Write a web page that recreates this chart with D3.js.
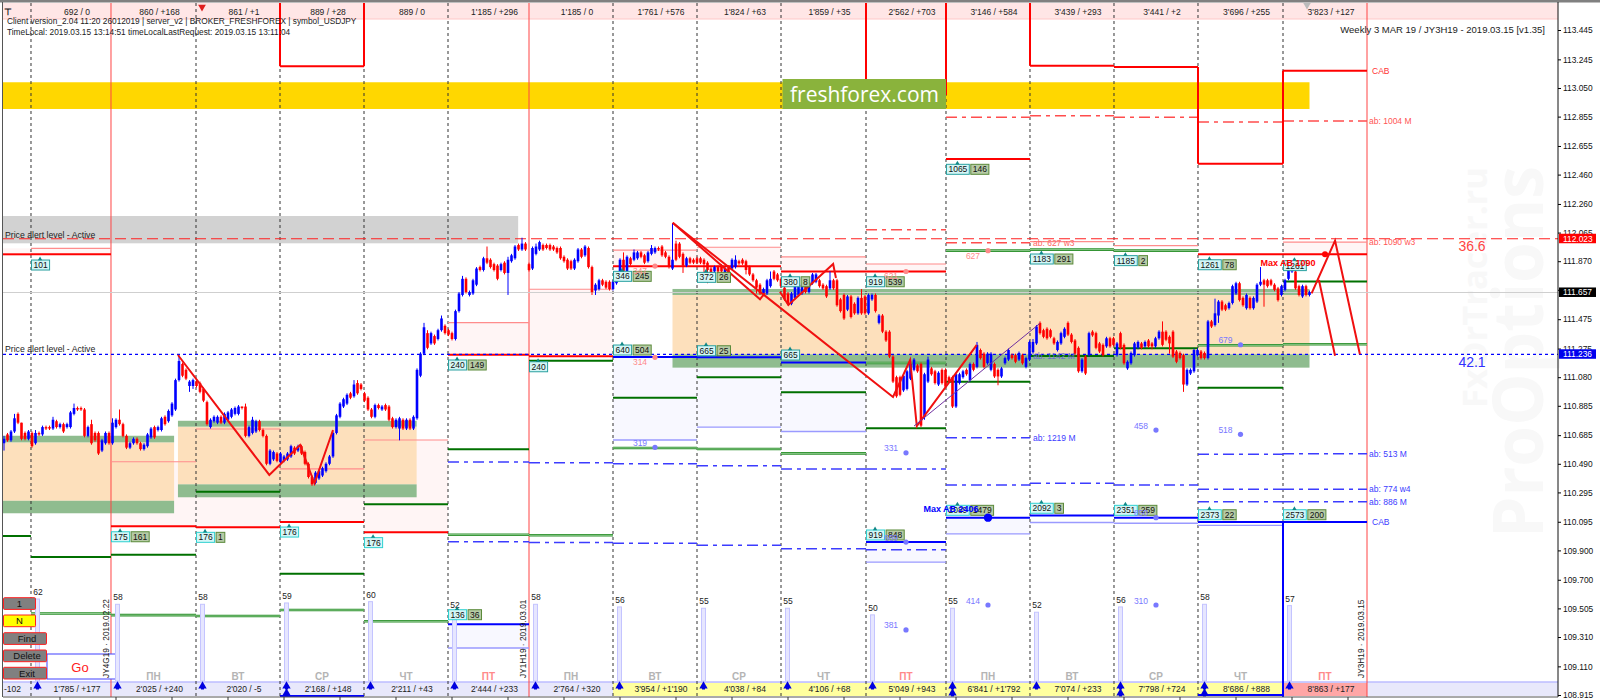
<!DOCTYPE html>
<html><head><meta charset="utf-8">
<script src="https://cdn.jsdelivr.net/npm/d3@7"></script>
<style>html,body{margin:0;padding:0;background:#fff;overflow:hidden}svg{display:block}text{font-family:"Liberation Sans",Arial,sans-serif}</style>
</head><body><svg id="c" width="1600" height="700"></svg>
<script>
const opens=[110.63,110.69,110.65,110.71,110.83,110.77,110.70,110.66,110.70,110.63,110.70,110.69,110.74,110.74,110.73,110.78,110.74,110.76,110.74,110.74,
110.83,110.87,110.87,110.86,110.68,110.76,110.70,110.70,110.58,110.63,110.70,110.63,110.74,110.79,110.76,110.68,110.60,110.63,110.66,110.63,
110.59,110.61,110.67,110.74,110.72,110.72,110.81,110.78,110.82,110.86,111.06,111.17,111.13,111.02,111.02,111.05,111.04,111.00,110.91,110.74,
110.78,110.77,110.81,110.77,110.79,110.81,110.83,110.83,110.88,110.88,110.68,110.70,110.71,110.78,110.72,110.68,110.49,110.52,110.56,110.50,
110.51,110.52,110.54,110.60,110.58,110.61,110.57,110.49,110.40,110.36,110.39,110.41,110.44,110.49,110.54,110.70,110.81,110.88,110.90,110.97,
110.95,111.04,111.03,110.97,110.94,110.86,110.81,110.89,110.86,110.89,110.88,110.80,110.74,110.73,110.79,110.73,110.79,110.73,110.80,111.09,
111.24,111.38,111.31,111.36,111.34,111.40,111.43,111.40,111.38,111.34,111.53,111.64,111.75,111.64,111.65,111.71,111.83,111.81,111.89,111.88,
111.85,111.84,111.81,111.86,111.79,111.87,111.89,111.98,111.95,111.99,111.85,111.82,111.92,111.95,111.98,111.98,111.98,111.97,111.96,111.96,
111.90,111.88,111.87,111.82,111.87,111.95,111.91,111.96,111.83,111.67,111.68,111.74,111.73,111.73,111.68,111.72,111.80,111.88,111.80,111.89,
111.88,111.89,111.93,111.91,111.87,111.92,111.93,111.96,111.97,111.93,111.90,111.82,111.99,111.99,111.92,111.84,111.89,111.88,111.89,111.89,
111.88,111.86,111.82,111.80,111.83,111.84,111.78,111.83,111.82,111.83,111.87,111.88,111.87,111.83,111.78,111.74,111.71,111.65,111.65,111.70,
111.80,111.78,111.75,111.69,111.65,111.58,111.62,111.64,111.65,111.70,111.66,111.72,111.73,111.74,111.71,111.70,111.685,111.74,111.74,111.61,
111.64,111.54,111.63,111.58,111.515,111.62,111.63,111.515,111.61,111.64,111.45,111.50,111.39,111.39,111.22,111.08,111.08,110.99,111.00,111.07,
111.13,111.16,111.17,110.81,111.05,111.14,111.12,111.03,111.13,111.13,111.08,111.08,110.88,111.04,111.08,111.13,111.06,111.17,111.15,111.265,
111.24,111.175,111.13,111.17,111.13,111.085,111.175,111.20,111.23,111.23,111.20,111.23,111.15,111.20,111.25,111.31,111.45,111.40,111.41,111.40,
111.345,111.265,111.31,111.355,111.45,111.37,111.33,111.28,111.12,111.22,111.23,111.39,111.38,111.31,111.30,111.29,111.345,111.345,111.23,111.38,
111.30,111.14,111.175,111.23,111.28,111.31,111.29,111.33,111.31,111.29,111.345,111.39,111.39,111.355,111.39,111.255,111.245,111.23,111.03,111.105,
111.12,111.23,111.255,111.245,111.21,111.46,111.435,111.50,111.595,111.57,111.55,111.585,111.65,111.72,111.62,111.55,111.62,111.55,111.595,111.71,
111.74,111.74,111.74,111.71,111.685,111.64,111.675,111.75,111.80,111.80,111.70,111.63,111.70,111.64];
const closes=[110.66,110.65,110.71,110.80,110.77,110.66,110.66,110.71,110.61,110.70,110.69,110.74,110.73,110.73,110.79,110.74,110.76,110.71,110.76,110.84,
110.87,110.86,110.86,110.68,110.74,110.63,110.65,110.56,110.65,110.70,110.63,110.77,110.79,110.76,110.68,110.60,110.63,110.66,110.63,110.59,
110.62,110.69,110.73,110.67,110.74,110.80,110.76,110.85,110.90,111.06,111.19,111.09,111.07,111.05,111.06,111.02,110.98,110.92,110.76,110.79,
110.81,110.81,110.77,110.83,110.84,110.86,110.87,110.88,110.87,110.68,110.74,110.79,110.78,110.72,110.68,110.49,110.58,110.57,110.51,110.56,
110.54,110.56,110.61,110.56,110.61,110.56,110.49,110.40,110.35,110.43,110.44,110.46,110.49,110.54,110.70,110.82,110.90,110.93,110.96,110.94,
111.03,110.97,111.00,110.92,110.86,110.81,110.89,110.87,110.88,110.86,110.79,110.74,110.79,110.80,110.73,110.79,110.73,110.81,111.13,111.24,
111.42,111.28,111.38,111.31,111.40,111.48,111.38,111.37,111.34,111.53,111.65,111.75,111.66,111.66,111.74,111.82,111.81,111.89,111.86,111.83,
111.81,111.75,111.85,111.79,111.88,111.91,111.97,111.95,111.99,111.95,111.81,111.96,111.97,112.00,111.95,111.96,111.95,111.95,111.93,111.89,
111.87,111.82,111.82,111.88,111.95,111.90,111.97,111.83,111.66,111.71,111.74,111.71,111.69,111.68,111.73,111.76,111.88,111.80,111.90,111.85,
111.93,111.93,111.90,111.86,111.93,111.96,111.96,111.95,111.91,111.90,111.83,111.88,111.88,111.90,111.84,111.89,111.86,111.86,111.86,111.86,
111.85,111.81,111.78,111.83,111.80,111.80,111.82,111.79,111.88,111.88,111.855,111.855,111.81,111.78,111.74,111.69,111.65,111.68,111.74,111.75,
111.75,111.74,111.70,111.61,111.58,111.65,111.70,111.71,111.71,111.66,111.73,111.78,111.78,111.70,111.685,111.63,111.74,111.685,111.57,111.53,
111.48,111.63,111.49,111.515,111.62,111.515,111.515,111.64,111.64,111.53,111.50,111.39,111.33,111.22,111.05,110.95,110.96,111.09,111.12,111.17,
111.20,111.12,110.75,111.10,111.20,111.10,111.04,111.11,111.04,111.015,111.05,110.88,111.10,111.10,111.12,111.10,111.17,111.13,111.30,111.21,
111.15,111.24,111.24,111.085,111.085,111.14,111.21,111.265,111.21,111.185,111.245,111.175,111.21,111.32,111.32,111.425,111.38,111.355,111.345,111.355,
111.31,111.32,111.38,111.41,111.37,111.32,111.24,111.12,111.20,111.105,111.38,111.365,111.28,111.255,111.23,111.345,111.29,111.30,111.31,111.28,
111.175,111.185,111.245,111.31,111.32,111.28,111.32,111.29,111.29,111.345,111.39,111.30,111.335,111.31,111.22,111.185,111.21,111.03,111.13,111.13,
111.265,111.265,111.21,111.21,111.46,111.425,111.515,111.595,111.54,111.54,111.585,111.70,111.72,111.605,111.57,111.64,111.55,111.62,111.71,111.73,
111.71,111.70,111.71,111.675,111.605,111.70,111.74,111.81,111.83,111.685,111.64,111.70,111.64,111.66];
const wickUpPips=[2,1,1,3,1,0,1,1,1,2,1,1,1,1,2,1,1,1,1,1,3,1,1,1,1,3,1,1,1,1,1,3,1,7,1,1,1,1,1,1,
1,1,1,1,1,1,1,1,1,1,4,1,1,1,1,1,1,1,1,1,1,1,1,1,1,1,1,1,0,2,1,2,1,1,1,1,1,1,1,1,
1,1,1,1,1,1,1,1,1,1,1,1,1,1,1,1,1,1,1,1,3,2,1,1,1,1,1,1,1,1,1,1,1,1,1,1,1,1,1,1,
3,2,1,1,1,2,1,1,1,1,1,2,1,1,1,1,1,1,8,1,1,1,1,1,2,1,1,1,4,1,1,1,2,1,1,1,1,1,1,1,
1,1,1,1,1,1,1,1,1,1,1,1,1,1,1,1,1,5,1,1,2,1,1,1,1,2,1,1,1,1,1,25,2,1,1,1,1,1,1,1,
1,1,1,1,1,1,1,1,1,3,1,1,1,1,1,1,1,1,1,5,1,1,1,1,1,1,1,1,1,1,1,1,1,1,1,1,6,1,1,1,
1,1,1,1,1,6,1,1,1,1,1,1,1,1,1,1,1,1,1,1,1,1,1,1,2,1,1,1,1,1,1,1,1,1,1,1,1,1,2,1,
1,1,1,1,1,1,1,1,1,1,1,1,1,1,2,1,1,1,1,1,1,1,1,1,1,1,1,1,1,1,1,1,1,1,1,1,1,1,1,1,
1,1,1,1,1,1,1,1,1,1,1,7,1,1,1,1,1,1,1,1,1,1,1,1,1,1,10,1,1,1,1,1,1,1,1,1,1,1,1,10,
1,1,1,1,1,1,1,1,1,1,1,1,1,1];
const wickDownPips=[5,1,1,1,1,1,1,1,1,1,1,1,1,1,1,1,1,1,1,1,1,1,1,1,1,1,1,1,1,1,1,1,1,1,1,1,1,1,1,1,
1,1,1,1,1,1,1,1,1,1,1,1,1,4,2,1,1,1,1,1,1,1,1,1,1,1,1,1,1,1,1,1,1,1,1,1,1,1,1,1,
1,1,1,1,1,1,1,1,1,1,1,1,1,1,1,1,1,1,1,1,1,1,1,1,1,1,1,1,1,1,1,1,1,8,1,1,1,1,1,1,
1,1,1,1,1,1,1,1,1,1,1,1,1,1,1,1,1,1,1,1,1,1,1,1,15,1,1,1,1,1,1,1,1,1,1,1,1,1,1,1,
1,1,1,1,1,1,1,1,2,3,1,1,1,1,1,1,1,1,1,1,1,1,1,1,1,1,1,1,1,1,1,1,1,1,5,1,1,1,1,1,
6,9,1,1,1,1,1,1,1,1,1,1,3,1,1,4,1,1,1,1,1,1,1,1,1,1,1,1,1,1,1,1,1,1,1,1,1,1,1,1,
1,1,1,1,1,1,1,1,1,1,1,1,1,1,1,1,1,1,1,1,1,1,1,2,1,1,1,1,1,1,1,1,1,1,1,1,1,1,1,1,
1,1,1,1,6,1,1,1,1,1,1,1,1,1,1,1,1,1,1,1,1,1,1,1,1,1,1,1,1,1,1,1,1,1,1,1,1,1,1,1,
1,1,1,1,1,1,1,1,2,1,1,1,1,7,1,1,1,5,1,1,1,1,1,1,1,1,1,5,1,1,1,1,1,1,1,1,1,1,1,1,
15,1,1,1,1,1,1,1,1,1,1,1,1,1];

const priceTicks=[113.445,113.245,113.05,112.855,112.655,112.46,112.26,112.065,111.87,111.675,111.475,111.275,111.08,110.885,110.685,110.49,110.295,110.095,109.9,109.7,109.505,109.31,109.11,108.915];
const dayStarts=[7.71,30.57,54.86,78.86,102.86,126.86,150,174,198,222,246.29,269.14,293.14,317.14,341.14,365.43,389.43];
const sessionStarts=[30.57,150,389.43];
const headerLabels=["692 / 0","860 / +168","861 / +1","889 / +28","889 / 0","1'185 / +296","1'185 / 0","1'761 / +576","1'824 / +63","1'859 / +35","2'562 / +703","3'146 / +584","3'439 / +293","3'441 / +2","3'696 / +255","3'823 / +127"];
const footerLabels=["1'785 / +177","2'025 / +240","2'020 / -5","2'168 / +148","2'211 / +43","2'444 / +233","2'764 / +320","3'954 / +1'190","4'038 / +84","4'106 / +68","5'049 / +943","6'841 / +1'792","7'074 / +233","7'798 / +724","8'686 / +888","8'863 / +177"];
const weekdays=["","ПН","ВТ","СР","ЧТ","ПТ","ПН","ВТ","СР","ЧТ","ПТ","ПН","ВТ","СР","ЧТ","ПТ"];
const volumes=[62,58,58,59,60,52,58,56,55,55,50,55,52,56,58,57];
const doubleArrowCols=[3,11,13,14];

// bands: [startBar,endBar,priceTop,priceBottom]
const orangeZones=[[-0.29,48.6,110.636,110.238],[49.7,117.9,110.743,110.35],[191,373,111.64,111.236]];
const greenZones=[[-0.29,48.6,110.681,110.636],[-0.29,48.6,110.238,110.153],[49.7,117.9,110.783,110.743],[49.7,117.9,110.35,110.262],[191,373,111.681,111.64],[191,373,111.236,111.145]];
const yellowZone=[-0.29,373,113.089,112.907];
const grayZone=[-0.29,146.9,112.178,111.992];
// level lines: [column,price]; column -1 is the stub before the first day line
const redThick=[[-1,111.917],[0,111.917],[5,111.233],[6,111.222],[7,111.835],[8,111.835],[9,111.80],[10,111.80],[14,111.917],[15,111.917],[1,110.064],[2,110.057],[3,110.094],[4,110.023],[11,112.566]];
const redThin=[[0,111.958],[1,110.504],[2,110.727],[3,110.455],[4,110.652],[5,111.451],[6,111.679],[7,111.946],[8,111.965],[9,111.90],[10,111.851],[12,112.003],[13,111.976],[15,112.00]];
const pinkFills=[[0,111.958,111.917],[-1,111.958,111.917],[1,110.504,110.064],[2,110.727,110.057],[3,110.455,110.094],[4,110.652,110.023],[5,111.451,111.233],[6,111.679,111.222],[7,111.946,111.835],[8,111.965,111.835],[9,111.90,111.80],[10,111.851,111.80],[15,112.00,111.917]];
const greenDark=[[-1,109.998],[0,109.855],[1,109.871],[2,110.30],[3,109.741],[4,110.214],[5,110.589],[6,111.192],[7,110.94],[8,111.079],[9,110.977],[10,110.732],[11,111.049],[12,111.224],[13,111.277],[14,111.008],[15,111.731]];
const greenDouble=[[0,109.47],[1,109.459],[2,109.453],[3,109.494],[4,109.417],[5,110.007],[6,110.003],[7,110.598],[8,110.591],[9,110.561],[10,111.177],[11,111.942],[12,111.949],[13,111.942],[14,111.297],[15,111.304]];
const blueDashDot=[[5,110.502],[5,109.959],[6,110.497],[6,109.953],[7,110.49],[7,109.948],[8,110.477],[8,109.935],[9,110.455],[9,109.912],[10,110.455],[10,109.905],[11,110.668],[11,110.346],[12,110.357],[13,110.346],[14,110.555],[14,110.316],[14,110.232],[15,110.559],[15,110.316],[15,110.232]];
const redDashDot=[[10,112.085],[11,112.85],[11,111.996],[12,112.861],[13,112.85],[14,112.819],[15,112.825]];
const blueThick=[[5,109.397],[7,111.217],[8,111.215],[9,111.18],[10,109.957],[11,110.123],[12,110.137],[13,110.123],[14,110.094],[15,110.094],[3,108.908],[14,108.915]];
const blueThin=[[5,109.235],[7,110.652],[8,110.74],[9,110.71],[10,109.82],[11,110.013],[12,110.09],[13,110.085],[14,110.07]];
const lavenderFills=[[5,109.397,109.235],[7,111.217,110.652],[8,111.215,110.74],[9,111.18,110.71],[10,109.957,109.82],[11,110.123,110.013]];
const redCabTops=[[3,113.198],[10,113.002],[12,113.202],[13,113.193],[14,112.534],[15,113.168]];
const levelPrices={alertHigh:112.023,alertLow:111.236,last:111.657};

// tag boxes: [column,price,first,second]
const tagRows=[[0,111.844,"101",""],[1,109.993,"175","161"],[2,109.989,"176","1"],[3,110.025,"176",""],[4,109.953,"176",""],[5,111.163,"240","149"],[6,111.151,"240",""],
[7,111.767,"346","245"],[7,111.265,"640","504"],[8,111.76,"372","26"],[8,111.26,"665","25"],[9,111.73,"380","8"],[9,111.231,"665",""],[10,111.73,"919","539"],[10,110.005,"919","848"],
[11,112.496,"1065","146"],[11,110.173,"2089","1479"],[12,111.885,"1183","291"],[12,110.187,"2092","3"],[13,111.874,"1185","2"],[13,110.173,"2351","259"],[14,111.846,"1261","78"],[14,110.143,"2373","22"],[15,111.84,"1261",""],[15,110.143,"2573","200"],[5,109.462,"136","36"]];
// dots at column centres: [column,price,text,colour key]
const dotRows=[[7,111.837,"347","r"],[10,111.80,"621","r"],[11,111.942,"627","r"],[7,111.215,"314","r"],[7,110.602,"319","b"],[10,110.565,"331","b"],[13,110.72,"458","b"],[14,110.691,"518","b"],[14,111.301,"679","b"],[10,109.358,"381","b"],[11,109.528,"414","b"],[13,109.528,"310","b"],[10,109.957,"669","b"],[13,110.123,"850","b"]];
// zigzags: parallel lists of bar index and price
const zigA={b:[49.7,75.8,84.6,88.7,94],p:[111.231,110.414,110.618,110.357,110.72]};
const zigB={b:[191.06,254,258.9,260.8,277.9],p:[112.132,110.945,111.197,110.747,111.299]};
const zigC={b:[191.06,216,217.4],p:[112.132,111.61,111.653]};
const zigD={b:[221.7,224.1,236.9,237.7],p:[111.662,111.572,111.851,111.756]};
const zigE={b:[373.6,380.3,387.4],p:[111.651,112.01,111.236]};
const zigF={b:[375.7,380.3],p:[111.742,111.226]};
const zigPurple={b:[260,296],p:[110.747,111.447]};

const FS=8.5;
const svg=d3.select("#c");
const y=d3.scaleLinear().domain([113.445,108.915]).range([30,695]);
const x=d3.scaleLinear().domain([0,374]).range([4,1313]);
const volH=d3.scaleLinear().domain([0,62]).range([0,82]);
const L=3,R=1558,T=3,B=697;
const colL=c=>c<0?L:x(dayStarts[c]);
const colR=c=>x(dayStarts[c+1]);
const colC=c=>(colL(c)+colR(c))/2;
const defs=svg.append("defs");
defs.append("clipPath").attr("id","plot").append("rect").attr("x",L).attr("y",T).attr("width",R-L).attr("height",B-T);

// watermark sits under everything
const wm=svg.append("g");
wm.append("text").attr("transform","translate(1543,538) rotate(-90)").text("ProOptions").attr("font-size",70).attr("font-weight",700).attr("fill","#f8f8f8").attr("textLength",372).attr("lengthAdjust","spacingAndGlyphs").style("font-family","'Open Sans'");
wm.append("text").attr("transform","translate(1487,408) rotate(-90)").text("FxOrTracer.ru").attr("font-size",34).attr("font-weight",700).attr("fill","#f8f8f8").attr("textLength",241).attr("lengthAdjust","spacingAndGlyphs").style("font-family","'Open Sans'");

const root=svg.append("g").attr("clip-path","url(#plot)");
function rectsZ(data,fill,g){(g||root).selectAll(null).data(data).enter().append("rect").attr("x",d=>x(d[0])).attr("width",d=>x(d[1])-x(d[0])).attr("y",d=>y(d[2])).attr("height",d=>y(d[3])-y(d[2])).attr("fill",fill);}
function fills(data,fill){root.selectAll(null).data(data).enter().append("rect").attr("x",d=>colL(d[0])).attr("width",d=>colR(d[0])-colL(d[0])).attr("y",d=>y(d[1])).attr("height",d=>y(d[2])-y(d[1])).attr("fill",fill);}
function levels(data,st){const s=root.selectAll(null).data(data).enter().append("line").attr("x1",d=>colL(d[0])).attr("x2",d=>colR(d[0])).attr("y1",d=>y(d[1])).attr("y2",d=>y(d[1])).attr("stroke",st.c).attr("stroke-width",st.w);if(st.dash)s.attr("stroke-dasharray",st.dash);}
function zig(z,c,w){root.append("path").attr("d",d3.line()(z.b.map((b,i)=>[x(b),y(z.p[i])]))).attr("fill","none").attr("stroke",c).attr("stroke-width",w).attr("stroke-linejoin","miter");}

// fills
fills(pinkFills,"#fff5f5");
fills(lavenderFills,"#f8f8ff");
rectsZ([grayZone],"#d2d2d2");
rectsZ(orangeZones,"#fde0bc");
rectsZ(greenZones,"#8fbc8f");
rectsZ([yellowZone],"#ffd700");

// top and bottom strips
root.append("rect").attr("x",L).attr("y",T).attr("width",R-L).attr("height",16).attr("fill","#ffe6e6");
root.append("line").attr("x1",L).attr("x2",R).attr("y1",19).attr("y2",19).attr("stroke","#ffc8c8");
root.append("rect").attr("x",L).attr("y",682).attr("width",R-L).attr("height",14).attr("fill","#e8e8fb");
root.append("line").attr("x1",L).attr("x2",R).attr("y1",682).attr("y2",682).attr("stroke","#bcbcff").attr("stroke-width",1.5);
root.selectAll(null).data(d3.range(7,15)).enter().append("rect").attr("x",c=>colL(c)).attr("width",c=>colR(c)-colL(c)).attr("y",683).attr("height",13).attr("fill","#ffff9e");
root.append("rect").attr("x",colL(15)).attr("width",colR(15)-colL(15)).attr("y",683).attr("height",13).attr("fill","#ffa6a6");

// day separators
root.selectAll(null).data(dayStarts.filter(d=>!sessionStarts.includes(d))).enter().append("line").attr("x1",d=>x(d)).attr("x2",d=>x(d)).attr("y1",T).attr("y2",B).attr("stroke","#333").attr("stroke-width",1).attr("stroke-dasharray","3,3");
root.selectAll(null).data(sessionStarts).enter().append("line").attr("x1",d=>x(d)).attr("x2",d=>x(d)).attr("y1",T).attr("y2",B).attr("stroke","#ff4444").attr("stroke-width",1);

// horizontals
root.append("line").attr("x1",L).attr("x2",R).attr("y1",y(levelPrices.last)).attr("y2",y(levelPrices.last)).attr("stroke","#cfcfcf").attr("stroke-width",1.2);
levels(redThin,{c:"#ff8c8c",w:1.2});
levels(blueThin,{c:"#9a9aff",w:1.3});
levels(greenDouble,{c:"#2a8f2a",w:2.6});
levels(greenDouble,{c:"#a8d8a8",w:0.8});
levels(greenDark,{c:"#007000",w:2});
levels(blueDashDot,{c:"#3c3cff",w:1.5,dash:"11,5,4,5"});
levels(redDashDot,{c:"#ff4d4d",w:1.5,dash:"11,5,4,5"});
levels(redThick,{c:"#ff0000",w:2});
levels(blueThick,{c:"#0000ff",w:2});
root.append("line").attr("x1",L).attr("x2",R).attr("y1",y(levelPrices.alertHigh)).attr("y2",y(levelPrices.alertHigh)).attr("stroke","#ff2020").attr("stroke-width",1.2).attr("stroke-dasharray","11,5");
root.append("line").attr("x1",L).attr("x2",R).attr("y1",y(levelPrices.alertLow)).attr("y2",y(levelPrices.alertLow)).attr("stroke","#0000ff").attr("stroke-width",1.2).attr("stroke-dasharray","3,3");

// "Go" box, under the volume columns and the rotated contract labels
root.append("rect").attr("x",47).attr("y",654).attr("width",69).attr("height",25).attr("fill","#fff").attr("stroke","#4040ff");

// volume columns
root.selectAll(null).data(volumes).enter().append("rect").attr("x",(v,i)=>colL(i)+4.5).attr("width",4).attr("y",v=>681-volH(v)).attr("height",v=>volH(v)).attr("fill","#e6e6ff").attr("stroke","#c4c4ff");
root.selectAll(null).data(volumes).enter().append("text").attr("x",(v,i)=>colL(i)+7).attr("y",v=>677-volH(v)).attr("text-anchor","middle").attr("font-size",FS).attr("fill","#222").text(v=>v);

// candles
const bars=d3.range(opens.length);
root.selectAll(null).data(bars).enter().append("line").attr("x1",i=>x(i)).attr("x2",i=>x(i))
 .attr("y1",i=>y(Math.max(opens[i],closes[i])+(wickUpPips[i]||0)/100)).attr("y2",i=>y(Math.min(opens[i],closes[i])-(wickDownPips[i]||0)/100))
 .attr("stroke",i=>closes[i]>=opens[i]?"#0000ff":"#ff0000").attr("stroke-width",1);
root.selectAll(null).data(bars).enter().append("rect").attr("x",i=>x(i)-1.3).attr("width",2.6).attr("y",i=>y(Math.max(opens[i],closes[i]))).attr("height",i=>Math.max(1,Math.abs(y(opens[i])-y(closes[i])))).attr("fill",i=>closes[i]>=opens[i]?"#0000ff":"#ff0000");

// step outlines
redCabTops.forEach(([c,p])=>{levels([[c,p]],{c:"#ff0000",w:2});});
const vert=(c,p1,p2,col)=>root.append("line").attr("x1",colL(c)).attr("x2",colL(c)).attr("y1",p1===null?T:y(p1)).attr("y2",p2===null?B:y(p2)).attr("stroke",col).attr("stroke-width",2);
vert(3,null,113.198,"#f00");vert(4,null,113.198,"#f00");vert(10,null,113.002,"#f00");vert(11,null,113.002,"#f00");vert(12,null,113.202,"#f00");vert(14,113.193,112.534,"#f00");vert(15,113.168,112.534,"#f00");
vert(15,110.094,null,"#00f");

// zigzags
zig(zigA,"#f01010",2);zig(zigB,"#f01010",2);zig(zigC,"#f01010",2);zig(zigD,"#f01010",2);zig(zigE,"#f01010",2);zig(zigF,"#f01010",2);
zig(zigPurple,"#7030a0",1);

// tags
const tg=root.append("g");
tagRows.forEach(([c,p,a,b])=>{
 const yy=y(p),x0=colL(c),bright=p<110.3;
 const wa=a.length*4.7+4,h=10;
 tg.append("rect").attr("x",x0+.5).attr("y",yy-h/2).attr("width",wa).attr("height",h).attr("fill","#d4f6f6").attr("stroke",bright?"#2fd0d0":"#2aa0a0");
 tg.append("text").attr("x",x0+.5+wa/2).attr("y",yy+3.1).attr("text-anchor","middle").attr("font-size",FS).attr("fill","#111").text(a);
 tg.append("path").attr("d",d3.symbol(d3.symbolTriangle,8)()).attr("transform",`translate(${x0+wa/2},${yy-h/2-1})`).attr("fill","#188");
 if(b){const wb=b.length*4.7+4;
  tg.append("rect").attr("x",x0+wa+2).attr("y",yy-h/2).attr("width",wb).attr("height",h).attr("fill","#b6caa6").attr("stroke","#5a8a3a");
  tg.append("text").attr("x",x0+wa+2+wb/2).attr("y",yy+3.1).attr("text-anchor","middle").attr("font-size",FS).attr("fill","#111").text(b);}
});

// dots
dotRows.forEach(([c,p,t,k])=>{
 const col=k==="r"?"#ff8a8a":"#7878ff";
 root.append("circle").attr("cx",colC(c)).attr("cy",y(p)).attr("r",2.6).attr("fill",col);
 root.append("text").attr("x",colC(c)-15).attr("y",y(p)+(k==="r"?8:-1.5)).attr("text-anchor","middle").attr("font-size",FS).attr("fill",col).text(t);
});
root.append("circle").attr("cx",colC(15)).attr("cy",y(111.917)).attr("r",3).attr("fill","#f00");
root.append("circle").attr("cx",colC(11)).attr("cy",y(110.123)).attr("r",4.2).attr("fill","#00f");
root.append("text").attr("x",1288).attr("y",y(111.86)+3).attr("text-anchor","middle").attr("font-size",9).attr("font-weight",700).attr("fill","#f00").text("Max AB 1090");
root.append("text").attr("x",951).attr("y",y(110.173)+1.5).attr("text-anchor","middle").attr("font-size",9).attr("font-weight",700).attr("fill","#00f").text("Max AB 2406");

// labels in plot
const lbl=(xx,p,t,col,size,anchor)=>root.append("text").attr("x",xx).attr("y",y(p)+(size||FS)*0.36).attr("font-size",size||FS).attr("fill",col).attr("text-anchor",anchor||"start").text(t);
lbl(5,112.05,"Price alert level - Active","#222",8.7);
lbl(5,111.27,"Price alert level - Active","#222",8.7);
const col16=colR(15)+2;
lbl(col16+3,113.168,"CAB","#ff3333");
lbl(col16,112.825,"ab: 1004 M","#ff5555");
lbl(col16,112.0,"ab: 1090 w3","#ff5555");
lbl(col16,110.559,"ab: 513 M","#3c3cff");
lbl(col16,110.316,"ab: 774 w4","#3c3cff");
lbl(col16,110.232,"ab: 886 M","#3c3cff");
lbl(col16+3,110.094,"CAB","#3c3cff");
lbl(colL(12)+3,110.668,"ab: 1219 M","#3c3cff");
lbl(colL(12)+3,111.996,"ab: 627 w3","#ff6666");
lbl(colL(12)+3,111.224,"ab: 1142 M","#6a6ad0");
lbl(1472,111.974,"36.6","#ff4444",14,"middle");
lbl(1472,111.184,"42.1","#3030ff",14,"middle");

// strips text
root.selectAll(null).data(headerLabels).enter().append("text").attr("x",(d,i)=>colC(i)+6).attr("y",15).attr("text-anchor","middle").attr("font-size",FS).attr("fill","#222").text(d=>d);
root.selectAll(null).data(footerLabels).enter().append("text").attr("x",(d,i)=>colC(i)+6).attr("y",692).attr("text-anchor","middle").attr("font-size",FS).attr("fill","#222").text(d=>d);
root.selectAll(null).data(weekdays).enter().append("text").attr("x",(d,i)=>colC(i)).attr("y",680).attr("text-anchor","middle").attr("font-size",10).attr("font-weight",700).attr("fill",(d,i)=>d==="ПТ"?"#ff8a8a":"#b4b4b4").text(d=>d);
root.append("text").attr("x",4).attr("y",692).attr("font-size",FS).attr("fill","#222").text("-102");
root.append("text").attr("x",7).attr("y",24).attr("font-size",8.3).attr("fill","#222").text("Client version_2.04 11:20 26012019 | server_v2 | BROKER_FRESHFOREX | symbol_USDJPY");
root.append("text").attr("x",7).attr("y",35).attr("font-size",8.3).attr("fill","#222").text("TimeLocal: 2019.03.15 13:14:51 timeLocalLastRequest: 2019.03.15 13:11:04");
root.append("text").attr("x",1545).attr("y",33).attr("text-anchor","end").attr("font-size",9.5).attr("fill","#222").text("Weekly 3 MAR 19 / JY3H19 - 2019.03.15 [v1.35]");
[[105.5,"JY4G19 · 2019.02.22"],[523,"JY1H19 · 2019.03.01"],[1361,"JY3H19 · 2019.03.15"]].forEach(([xx,t])=>root.append("text").attr("transform",`translate(${xx+3},678) rotate(-90)`).attr("font-size",8.3).attr("fill","#222").text(t));

// arrows on the footer strip
function arrow(cx,cy){root.append("path").attr("d",d3.symbol(d3.symbolTriangle,30)()).attr("transform",`translate(${cx},${cy})`).attr("fill","#0000e0");root.append("rect").attr("x",cx-1.5).attr("y",cy).attr("width",3).attr("height",3.5).attr("fill","#0000e0");}
volumes.forEach((v,i)=>{arrow(colL(i)+6.5,686);if(doubleArrowCols.includes(i))arrow(colL(i)+6.5,693);});

// logo
root.append("rect").attr("x",782.5).attr("y",79).attr("width",163.5).attr("height",30).attr("fill","#8ab33c");
root.append("text").attr("x",790).attr("y",101.5).attr("font-size",21.5).attr("fill","#fff").attr("textLength",149).attr("lengthAdjust","spacingAndGlyphs").style("font-family","'Open Sans'").text("freshforex.com");

// buttons
[["1",597.7,32,"#808080"],["N",615,32,"#ffff00"],["Find",632.7,43,"#808080"],["Delete",650,43,"#808080"],["Exit",667.3,43,"#808080"]].forEach(([t,yy,w,f])=>{
 root.append("rect").attr("x",3.5).attr("y",yy).attr("width",w).attr("height",11.7).attr("rx",1).attr("fill",f).attr("stroke","#ff2020");
 root.append("text").attr("x",3.5+(w>40?w/2+2:w/2)).attr("y",yy+9.3).attr("text-anchor","middle").attr("font-size",9.5).attr("fill","#111").text(t);
});
lbl(80,109.105,"Go","#ff2020",13,"middle");
root.append("path").attr("d",d3.symbol(d3.symbolTriangle,26)()).attr("transform",`translate(202,7) rotate(180)`).attr("fill","#e02020");
root.append("path").attr("d",d3.symbol(d3.symbolTriangle,26)()).attr("transform",`translate(1307,5) rotate(180)`).attr("fill","#bbb");
root.append("text").attr("x",4).attr("y",15).attr("font-size",9).attr("font-weight",700).attr("fill","#111").text("⊤");

// frame
svg.append("rect").attr("x",0).attr("y",0).attr("width",1600).attr("height",2.5).attr("fill","#808080");
svg.append("line").attr("x1",2.5).attr("x2",2.5).attr("y1",2).attr("y2",697).attr("stroke","#555");
svg.append("line").attr("x1",R).attr("x2",R).attr("y1",2).attr("y2",B).attr("stroke","#111");
svg.append("line").attr("x1",L).attr("x2",R).attr("y1",B).attr("y2",B).attr("stroke","#555");
svg.selectAll(null).data(d3.range(16,388,16)).enter().append("line").attr("x1",i=>x(i)).attr("x2",i=>x(i)).attr("y1",B).attr("y2",700).attr("stroke","#333");

// price axis
const ax=svg.append("g").attr("transform",`translate(${R},0)`).call(d3.axisRight(y).tickValues(priceTicks).tickFormat(d=>d===111.675?"":d3.format(".3f")(d)).tickSize(3).tickPadding(2));
ax.select(".domain").remove();
ax.selectAll("text").attr("font-size",8.4).attr("fill","#111").style("font-family","'Liberation Sans'");
[[112.023,"#ff0000","112.023"],[111.657,"#000","111.657"],[111.236,"#0000ee","111.236"]].forEach(([p,c,t])=>{
 svg.append("rect").attr("x",R+1).attr("y",y(p)-5).attr("width",37).attr("height",9.5).attr("fill",c);
 svg.append("text").attr("x",R+5).attr("y",y(p)+2.8).attr("font-size",8.4).attr("fill","#fff").text(t);
});
</script></body></html>
